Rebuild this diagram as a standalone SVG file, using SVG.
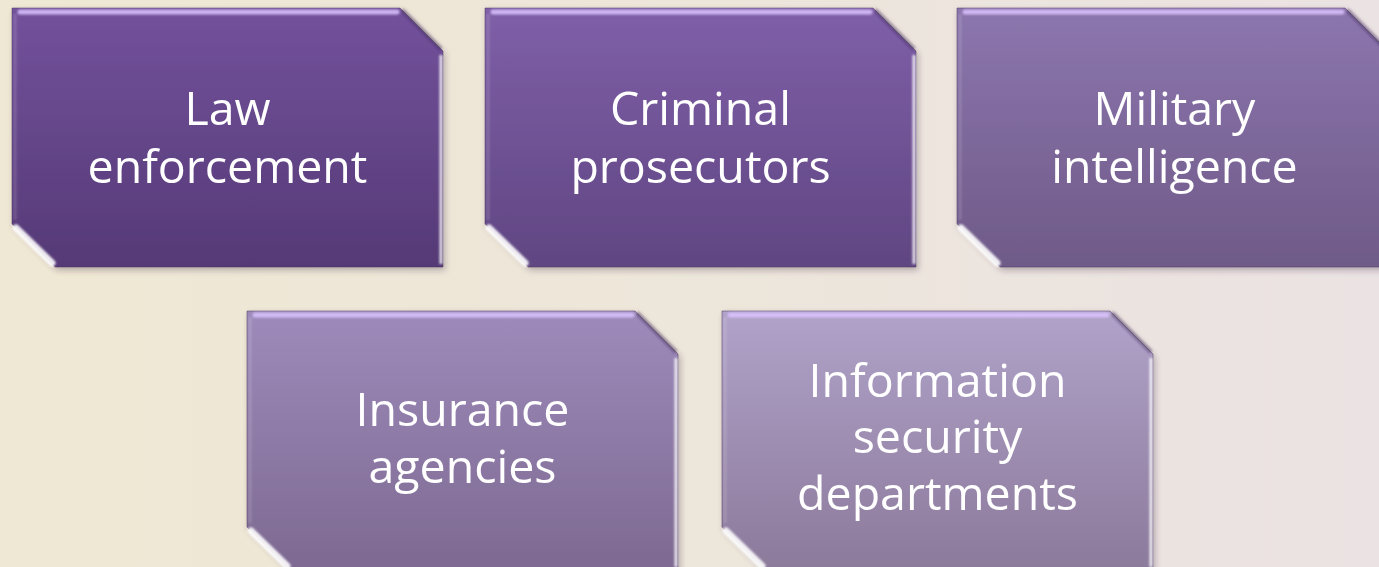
<svg xmlns="http://www.w3.org/2000/svg" width="1379" height="567" viewBox="0 0 1379 567">
  <defs>
    <linearGradient id="bg" x1="0" y1="0" x2="1" y2="0">
      <stop offset="0" stop-color="#efe8d4"/>
      <stop offset="0.5" stop-color="#ede6da"/>
      <stop offset="1" stop-color="#ebe2e3"/>
    </linearGradient>
    <linearGradient id="g1" x1="0" y1="0" x2="0" y2="1">
      <stop offset="0" stop-color="#73529c"/>
      <stop offset="1" stop-color="#553976"/>
    </linearGradient>
    <linearGradient id="g2" x1="0" y1="0" x2="0" y2="1">
      <stop offset="0" stop-color="#7f5fa8"/>
      <stop offset="1" stop-color="#604682"/>
    </linearGradient>
    <linearGradient id="g3" x1="0" y1="0" x2="0" y2="1">
      <stop offset="0" stop-color="#8c76ae"/>
      <stop offset="1" stop-color="#6f5a88"/>
    </linearGradient>
    <linearGradient id="g4" x1="0" y1="0" x2="0" y2="1">
      <stop offset="0" stop-color="#9e8bbb"/>
      <stop offset="1" stop-color="#7d6991"/>
    </linearGradient>
    <linearGradient id="g5" x1="0" y1="0" x2="0" y2="1">
      <stop offset="0" stop-color="#b0a2c9"/>
      <stop offset="1" stop-color="#8c7a9b"/>
    </linearGradient>
    <filter id="shadow" x="-5%" y="-5%" width="115%" height="120%">
      <feDropShadow dx="2" dy="3" stdDeviation="3" flood-color="#3a2c44" flood-opacity="0.35"/>
    </filter>
    <filter id="soft" x="-5%" y="-5%" width="110%" height="110%">
      <feGaussianBlur stdDeviation="0.9"/>
    </filter>
    <!-- snipped-corner card outline, 431 x 259 -->
    <path id="card" d="M0,0 H388 L431,43 V259 H43 L0,216 Z"/>
  </defs>
  <style>
    .top { stroke: #dcc4ff; stroke-width: 5; opacity: 0.85; fill: none; stroke-linecap: round; }
    .right { stroke: #ffffff; stroke-width: 3; opacity: 0.85; fill: none; }
    .corner { stroke: #ffffff; stroke-width: 7; opacity: 0.9; fill: none; stroke-linecap: round; }
    .diag { stroke: #3e2c56; stroke-width: 4; opacity: 0.45; fill: none; }
    .left { stroke: #ffffff; stroke-width: 3; opacity: 0.15; fill: none; }
    .edge { fill: none; stroke: #4d3a60; stroke-width: 1; opacity: 0.5; }
    .label { font-family: "Open Sans", "Noto Sans", sans-serif; font-size: 46.5px; fill: #ffffff; text-anchor: middle; }
  </style>

  <rect width="1379" height="567" fill="url(#bg)"/>

  <g id="connectors"/>

  <g id="law-enforcement" transform="translate(12,8)">
    <use href="#card" fill="url(#g1)" filter="url(#shadow)"/>
    <use href="#card" class="edge"/>
    <g filter="url(#soft)">
      <line class="top" x1="8" y1="4" x2="385" y2="4"/>
      <line class="diag" x1="390" y1="2" x2="429" y2="41"/>
      <line class="right" x1="429" y1="47" x2="429" y2="256"/>
      <line class="left" x1="3" y1="6" x2="3" y2="212"/>
      <line class="corner" x1="4" y1="220" x2="40" y2="255"/>
    </g>
    <text class="label" x="215.5" y="117">Law</text>
    <text class="label" x="215.5" y="175">enforcement</text>
  </g>

  <g id="criminal-prosecutors" transform="translate(485,8)">
    <use href="#card" fill="url(#g2)" filter="url(#shadow)"/>
    <use href="#card" class="edge"/>
    <g filter="url(#soft)">
      <line class="top" x1="8" y1="4" x2="385" y2="4"/>
      <line class="diag" x1="390" y1="2" x2="429" y2="41"/>
      <line class="right" x1="429" y1="47" x2="429" y2="256"/>
      <line class="left" x1="3" y1="6" x2="3" y2="212"/>
      <line class="corner" x1="4" y1="220" x2="40" y2="255"/>
    </g>
    <text class="label" x="215.5" y="117">Criminal</text>
    <text class="label" x="215.5" y="175">prosecutors</text>
  </g>

  <g id="military-intelligence" transform="translate(957,8)">
    <use href="#card" fill="url(#g3)" filter="url(#shadow)"/>
    <use href="#card" class="edge"/>
    <g filter="url(#soft)">
      <line class="top" x1="8" y1="4" x2="385" y2="4"/>
      <line class="diag" x1="390" y1="2" x2="429" y2="41"/>
      <line class="right" x1="429" y1="47" x2="429" y2="256"/>
      <line class="left" x1="3" y1="6" x2="3" y2="212"/>
      <line class="corner" x1="4" y1="220" x2="40" y2="255"/>
    </g>
    <text class="label" x="217.5" y="117">Military</text>
    <text class="label" x="217.5" y="175">intelligence</text>
  </g>

  <g id="insurance-agencies" transform="translate(247,311)">
    <use href="#card" fill="url(#g4)" filter="url(#shadow)"/>
    <use href="#card" class="edge"/>
    <g filter="url(#soft)">
      <line class="top" x1="8" y1="4" x2="385" y2="4"/>
      <line class="diag" x1="390" y1="2" x2="429" y2="41"/>
      <line class="right" x1="429" y1="47" x2="429" y2="256"/>
      <line class="left" x1="3" y1="6" x2="3" y2="212"/>
      <line class="corner" x1="4" y1="220" x2="40" y2="255"/>
    </g>
    <text class="label" x="215.5" y="115">Insurance</text>
    <text class="label" x="215.5" y="172">agencies</text>
  </g>

  <g id="information-security-departments" transform="translate(722,311)">
    <use href="#card" fill="url(#g5)" filter="url(#shadow)"/>
    <use href="#card" class="edge"/>
    <g filter="url(#soft)">
      <line class="top" x1="8" y1="4" x2="385" y2="4"/>
      <line class="diag" x1="390" y1="2" x2="429" y2="41"/>
      <line class="right" x1="429" y1="47" x2="429" y2="256"/>
      <line class="left" x1="3" y1="6" x2="3" y2="212"/>
      <line class="corner" x1="4" y1="220" x2="40" y2="255"/>
    </g>
    <text class="label" x="215.5" y="86">Information</text>
    <text class="label" x="215.5" y="142">security</text>
    <text class="label" x="215.5" y="199">departments</text>
  </g>
</svg>
